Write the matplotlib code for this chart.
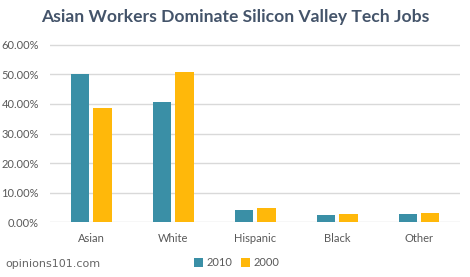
import matplotlib.pyplot as plt
import numpy as np

categories = ['Asian', 'White', 'Hispanic', 'Black', 'Other']
share_2010 = [50.1, 40.6, 4.2, 2.6, 2.9]
share_2000 = [38.6, 50.8, 4.8, 2.9, 3.2]
yticks = [0, 10, 20, 30, 40, 50, 60]

teal = '#3A8FA6'
gold = '#FFB80A'
grey = '#595959'

plt.rcParams['font.family'] = ['Lato', 'DejaVu Sans']

fig = plt.figure(figsize=(4.7, 2.77), dpi=100)
ax = fig.add_axes([50/470, 1-222.3/277, 410/470, (222.3-30)/277])

x = np.arange(len(categories))
w = 0.22
ax.bar(x - 0.14, share_2010, w, color=teal, label='2010', zorder=3)
ax.bar(x + 0.14, share_2000, w, color=gold, label='2000', zorder=3)

ax.set_xlim(-0.5, len(categories) - 0.5)
ax.set_ylim(0, 65)
ax.set_yticks(yticks)
ax.set_yticklabels(['%.2f%%' % v for v in yticks], color=grey, fontsize=8)
ax.set_xticks(x)
ax.set_xticklabels(categories, color=grey, fontsize=8)
ax.tick_params(length=0, pad=8)
ax.tick_params(axis='x', pad=8)
ax.yaxis.grid(True, color='#D9D9D9', linewidth=1, zorder=0)
for s in ax.spines.values():
    s.set_visible(False)

fig.text(0.5, 1-17/277, 'Asian Workers Dominate Silicon Valley Tech Jobs',
         ha='center', va='center', fontsize=12.6, fontweight='bold', color='#44546A')
fig.text(5/470, 1-264/277, 'opinions101.com', ha='left', va='center',
         fontsize=8, color='#666666', family='DejaVu Sans')

ax.legend(loc='center', bbox_to_anchor=(237/470, 1-263/277), bbox_transform=fig.transFigure,
          ncol=2, frameon=False, fontsize=8, handlelength=0.8, handleheight=0.8,
          handletextpad=0.3, columnspacing=0.8, labelcolor=grey)

fig.savefig('out.png', dpi=100)
